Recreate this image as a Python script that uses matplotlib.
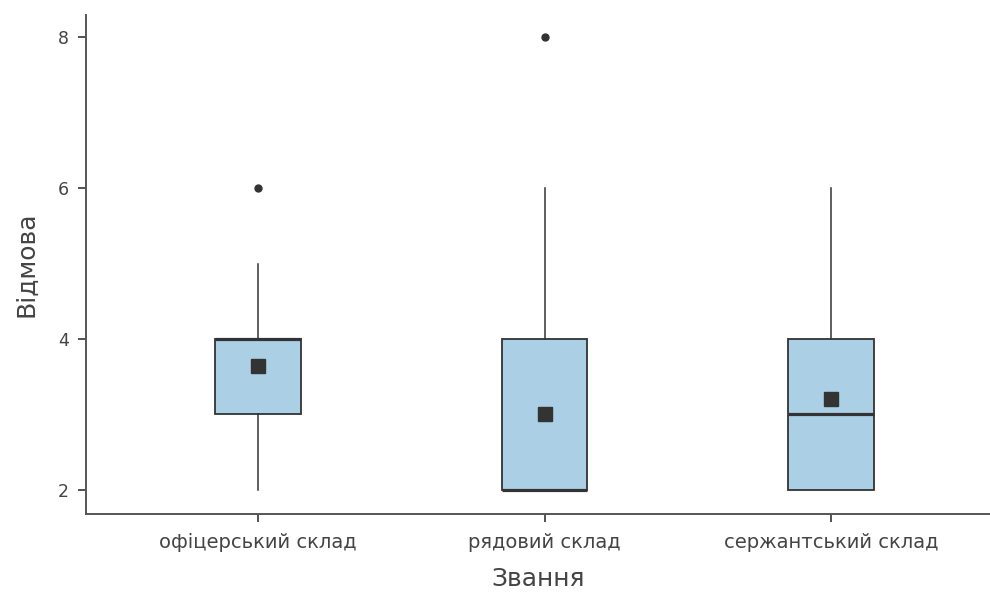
import matplotlib
matplotlib.use("Agg")
import matplotlib.pyplot as plt

plt.rcParams["font.family"] = ["DejaVu Sans"]

# Рангові групи та описові статистики
ranks = ["офіцерський склад", "рядовий склад", "сержантський склад"]
q1 = [3, 2, 2]
median = [4, 2, 3]
q3 = [4, 4, 4]
whisker_low = [2, 2, 2]
whisker_high = [5, 6, 6]
means = [3.64, 3.0, 3.2]
outliers = [[6], [8], []]

INK = "#333333"
TEXT = "#444444"
FILL = "#abd0e6"

stats = []
for i, name in enumerate(ranks):
    stats.append(dict(label=name, q1=q1[i], med=median[i], q3=q3[i],
                      whislo=whisker_low[i], whishi=whisker_high[i],
                      mean=means[i], fliers=outliers[i]))

fig = plt.figure(figsize=(9.9, 5.94), dpi=100)
ax = fig.add_axes([0.087, 0.135, 0.913, 0.84])

ax.bxp(stats, positions=range(len(ranks)), widths=0.30, patch_artist=True,
       showmeans=True, showcaps=False,
       boxprops=dict(facecolor=FILL, edgecolor=INK, linewidth=1.3),
       medianprops=dict(color=INK, linewidth=2.3),
       whiskerprops=dict(color=INK, linewidth=1.1),
       flierprops=dict(marker="o", markerfacecolor=INK, markeredgecolor=INK,
                       markersize=5),
       meanprops=dict(marker="s", markerfacecolor=INK, markeredgecolor=INK,
                      markersize=10))

ax.set_xlim(-0.60, 2.555)
ax.set_ylim(1.68, 8.3)
ax.set_yticks([2, 4, 6, 8])
ax.set_xticks(range(len(ranks)))
ax.set_xticklabels(ranks)

for side in ("top", "right"):
    ax.spines[side].set_visible(False)
for side in ("left", "bottom"):
    ax.spines[side].set_color("#555555")
    ax.spines[side].set_linewidth(1.4)

ax.tick_params(axis="both", colors="#444444", length=5.5, width=1.3,
               labelcolor=TEXT)
ax.tick_params(axis="y", labelsize=12.5, pad=7)
ax.tick_params(axis="x", labelsize=14, pad=8)

ax.set_xlabel("Звання", fontsize=18, color=TEXT, labelpad=11)
ax.set_ylabel("Відмова", fontsize=18, color=TEXT, labelpad=14)

fig.savefig("out.png", dpi=100, facecolor="white")
